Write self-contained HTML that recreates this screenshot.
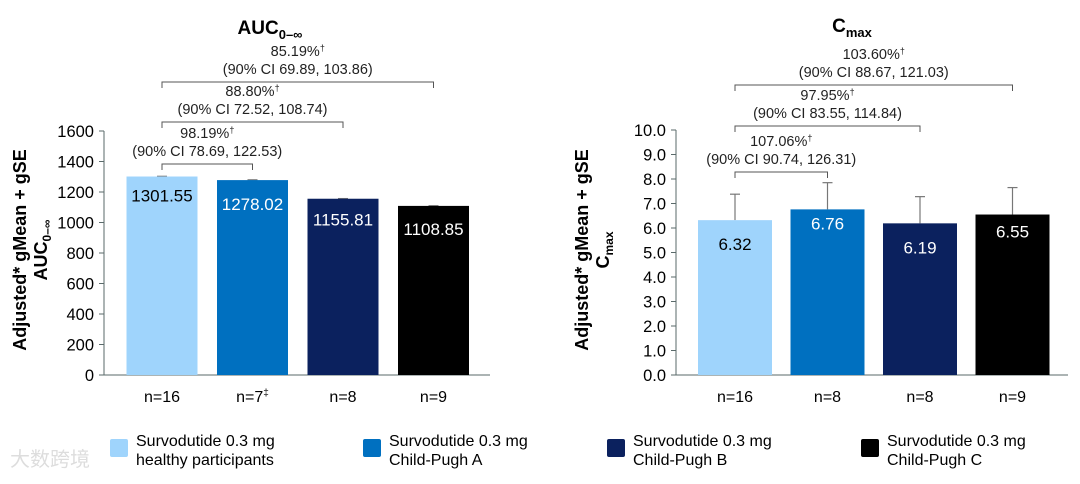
<!DOCTYPE html>
<html><head><meta charset="utf-8"><style>
body{margin:0;background:#fff;width:1080px;height:479px;overflow:hidden;font-family:"Liberation Sans",sans-serif}
svg text{font-family:"Liberation Sans",sans-serif}
</style></head><body>
<svg id="s" width="1080" height="479">
<text x="270" y="34" font-size="19" font-weight="bold" text-anchor="middle">AUC<tspan font-size="13" dy="5">0–∞</tspan></text>
<text x="852" y="32" font-size="19" font-weight="bold" text-anchor="middle">C<tspan font-size="13" dy="5">max</tspan></text>
<g font-size="18" font-weight="bold">
<text transform="translate(26,250) rotate(-90)" text-anchor="middle">Adjusted* gMean + gSE</text>
<text transform="translate(47,250) rotate(-90)" text-anchor="middle">AUC<tspan font-size="12" dy="4">0–∞</tspan></text>
</g>
<g font-size="18" font-weight="bold">
<text transform="translate(588,250) rotate(-90)" text-anchor="middle">Adjusted* gMean + gSE</text>
<text transform="translate(609,250) rotate(-90)" text-anchor="middle">C<tspan font-size="12" dy="4">max</tspan></text>
</g>
<g id="legend"></g>
<text x="10" y="466" font-size="20" fill="#ddd" font-family="'Noto Sans CJK SC',sans-serif">大数跨境</text>
</svg>
<script>
const categories=["Survodutide 0.3 mg healthy participants","Survodutide 0.3 mg Child-Pugh A","Survodutide 0.3 mg Child-Pugh B","Survodutide 0.3 mg Child-Pugh C"];
const nLabelsAuc=["n=16","n=7","n=8","n=9"];
const nSupAuc=["","‡","",""];
const nLabelsCmax=["n=16","n=8","n=8","n=9"];
const aucValues=[1301.55,1278.02,1155.81,1108.85];
const aucErrTop=[1303,1280,1157,1110];
const aucTicks=[0,200,400,600,800,1000,1200,1400,1600];
const cmaxValues=[6.32,6.76,6.19,6.55];
const cmaxErrTop=[7.38,7.85,7.28,7.65];
const cmaxTicks=[0,1,2,3,4,5,6,7,8,9,10];
const aucComparisons=[["98.19%","(90% CI 78.69, 122.53)",1],["88.80%","(90% CI 72.52, 108.74)",2],["85.19%","(90% CI 69.89, 103.86)",3]];
const cmaxComparisons=[["107.06%","(90% CI 90.74, 126.31)",1],["97.95%","(90% CI 83.55, 114.84)",2],["103.60%","(90% CI 88.67, 121.03)",3]];
const colors=["#9fd4fc","#0070c0","#0b215e","#000000"];
const textColors=["#000","#fff","#fff","#fff"];
const NS="http://www.w3.org/2000/svg";
const svg=document.getElementById('s');
function mk(t,a,p){const e=document.createElementNS(NS,t);for(const k in a)e.setAttribute(k,a[k]);(p||svg).appendChild(e);return e;}
function chart(cfg){
  const g=mk('g',{});
  
  
  const y=v=>cfg.y0-(v-cfg.min)/(cfg.max-cfg.min)*(cfg.y0-cfg.y1);
  const x=i=>cfg.x0+cfg.first+i*cfg.step;
  const ax=mk('line',{x1:cfg.x0,x2:cfg.x0,y1:y(cfg.max),y2:cfg.y0,stroke:'#5a6a6a','stroke-width':1},g);
  
  const bx=mk('line',{x1:cfg.x0,x2:cfg.xEnd,y1:cfg.y0,y2:cfg.y0,stroke:'#5a6a6a','stroke-width':1},g);
  
  cfg.ticks.forEach(t=>{
    mk('line',{x1:cfg.x0-5,x2:cfg.x0,y1:y(t),y2:y(t),stroke:'#5a6a6a'},g);
    const tx=mk('text',{x:cfg.x0-10,y:y(t)+6,'font-size':16.5,'text-anchor':'end'},g);
    tx.textContent=cfg.fmt(t);
    
  });
  cfg.vals.forEach((v,i)=>{
    const cx=x(i);
    const ex=mk('line',{x1:cx,x2:cx,y1:y(cfg.err[i]),y2:y(v),stroke:'#777','stroke-width':1.2},g);
    
    mk('line',{x1:cx-5,x2:cx+5,y1:y(cfg.err[i]),y2:y(cfg.err[i]),stroke:'#777','stroke-width':1.2},g);
    const r=mk('rect',{x:cx-cfg.bw/2,y:y(v),width:cfg.bw,height:cfg.y0-y(v),fill:colors[i]},g);
    
    const lt=mk('text',{x:cx,y:y(v)+cfg.lblOff[i],'font-size':17,'text-anchor':'middle',fill:textColors[i]},g);
    lt.textContent=cfg.fmtV(v);
    
    const nt=mk('text',{x:cx,y:cfg.y0+27,'font-size':16,'text-anchor':'middle'},g);
    nt.textContent=cfg.nl[i];
    if(cfg.sup&&cfg.sup[i]){const s=mk('tspan',{'font-size':10,dy:-6},nt);s.textContent=cfg.sup[i];}
    
  });
  cfg.comp.forEach((c,k)=>{
    const by=cfg.bY[k];const x1=x(0),x2=x(c[2]);
    const p=mk('path',{d:`M${x1},${by+6}V${by}H${x2}V${by+6}`,fill:'none',stroke:'#555','stroke-width':1},g);
    
    const mx=(x1+x2)/2;
    const t1=mk('text',{x:mx,y:by-26,'font-size':14.5,'text-anchor':'middle',fill:'#222'},g);t1.textContent=c[0];
    const d=mk('tspan',{'font-size':9,dy:-5},t1);d.textContent='†';
    
    const t2=mk('text',{x:mx,y:by-8,'font-size':14.5,'text-anchor':'middle',fill:'#222'},g);t2.textContent=c[1];
    
  });
}
chart({name:'auc-chart',x0:104,xEnd:490,y0:375,y1:131,min:0,max:1600,first:58,step:90.5,bw:71,ticks:aucTicks,fmt:t=>String(t),fmtV:v=>v.toFixed(2),vals:aucValues,err:aucErrTop,nl:nLabelsAuc,sup:nSupAuc,comp:aucComparisons,bY:[164,122,82],lblOff:[25,30,27,29]});
chart({name:'cmax-chart',x0:676,xEnd:1068,y0:375,y1:130,min:0,max:10,first:59,step:92.5,bw:74,ticks:cmaxTicks,fmt:t=>t.toFixed(1),fmtV:v=>v.toFixed(2),vals:cmaxValues,err:cmaxErrTop,nl:nLabelsCmax,comp:cmaxComparisons,bY:[172,126,85],lblOff:[30,20,30,23]});
const lg=document.getElementById('legend');

const lx=[110,363,607,861];
const l1=["Survodutide 0.3 mg","Survodutide 0.3 mg","Survodutide 0.3 mg","Survodutide 0.3 mg"];
const l2=["healthy participants","Child-Pugh A","Child-Pugh B","Child-Pugh C"];
lx.forEach((X,i)=>{
  const e=mk('g',{},lg);
  
  mk('rect',{x:X,y:439,width:18,height:18,rx:2,fill:colors[i]},e);
  const a=mk('text',{x:X+26,y:446,'font-size':16},e);a.textContent=l1[i];
  const b=mk('text',{x:X+26,y:465,'font-size':16},e);b.textContent=l2[i];
});
</script>
</body></html>
